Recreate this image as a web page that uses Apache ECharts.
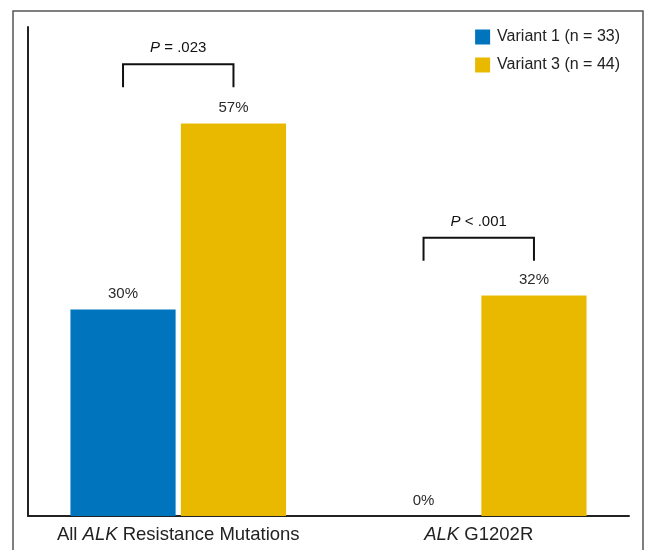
<!DOCTYPE html>
<html>
<head>
<meta charset="utf-8">
<script src="https://cdn.jsdelivr.net/npm/echarts@6/dist/echarts.min.js"></script>
<style>
  html, body { margin: 0; padding: 0; background: #fff; }
  #chart { width: 646px; height: 550px; }
</style>
</head>
<body>
<div id="chart"></div>
<script>
// Share of patients with ALK resistance mutations, by EML4-ALK variant
const categories = ['All ALK Resistance Mutations', 'ALK G1202R'];
const seriesNames = ['Variant 1 (n = 33)', 'Variant 3 (n = 44)'];
const variant1 = [30, 0];
const variant3 = [57, 32];
const pComparators = ['=', '<'];
const pValues = ['.023', '.001'];
const bracketLevels = [65.6, 40.4];

const FONT = '"Liberation Sans", Arial, Helvetica, sans-serif';
const BLUE = '#0075BE';
const YELLOW = '#E9B900';
const BAR_WIDTH_RATIO = 0.35;
const BAR_GAP_RATIO = 0.05;

const chart = echarts.init(document.getElementById('chart'), null, { renderer: 'canvas' });

const valueLabel = {
  show: true,
  position: 'top',
  distance: 8,
  fontFamily: FONT,
  fontSize: 15,
  color: '#2a2a2a',
  formatter: p => p.value + '%'
};

// Italicise the gene symbol inside category names
function categoryLabel(name) {
  return name.split(/(ALK)/).filter(s => s.length).map(s =>
    s === 'ALK' ? '{i|ALK}' : '{n|' + s + '}').join('');
}

function renderBracket(params, api) {
  const idx = api.value(0);
  const top = api.coord([idx, api.value(1)]);
  const band = api.size([1, 0])[0];
  const bw = band * BAR_WIDTH_RATIO;
  const off = (bw + bw * BAR_GAP_RATIO) / 2;
  const leg = 23;
  return {
    type: 'group',
    children: [
      {
        type: 'polyline',
        shape: {
          points: [
            [top[0] - off, top[1] + leg],
            [top[0] - off, top[1]],
            [top[0] + off, top[1]],
            [top[0] + off, top[1] + leg]
          ]
        },
        style: { stroke: '#111', lineWidth: 2, fill: null }
      },
      {
        type: 'text',
        x: top[0],
        y: top[1] - 16,
        style: {
          text: '{i|P}{n| ' + pComparators[idx] + ' ' + pValues[idx] + '}',
          align: 'center',
          verticalAlign: 'middle',
          rich: {
            i: { fontFamily: FONT, fontSize: 15, fontStyle: 'italic', fill: '#111' },
            n: { fontFamily: FONT, fontSize: 15, fill: '#111' }
          }
        }
      }
    ]
  };
}

chart.setOption({
  animation: false,
  backgroundColor: '#fff',
  graphic: [{
    type: 'rect',
    shape: { x: 13, y: 11, width: 630, height: 560 },
    style: { fill: null, stroke: '#555', lineWidth: 1.5 },
    silent: true
  }],
  legend: {
    data: seriesNames,
    orient: 'vertical',
    right: 21,
    top: 24,
    itemWidth: 15,
    itemHeight: 15,
    itemGap: 12,
    icon: 'rect',
    textStyle: { fontFamily: FONT, fontSize: 16, color: '#222', padding: [0, 0, 0, 2] }
  },
  grid: { left: 28, right: 17, top: 27, bottom: 34, containLabel: false },
  xAxis: {
    type: 'category',
    data: categories,
    axisLine: { lineStyle: { color: '#222', width: 2 } },
    axisTick: { show: false },
    axisLabel: {
      margin: 9,
      formatter: categoryLabel,
      rich: {
        i: { fontFamily: FONT, fontSize: 18.5, fontStyle: 'italic', color: '#222' },
        n: { fontFamily: FONT, fontSize: 18.5, color: '#222' }
      }
    }
  },
  yAxis: {
    type: 'value',
    min: 0,
    max: 71,
    axisLine: { show: true, lineStyle: { color: '#222', width: 2 } },
    axisTick: { show: false },
    axisLabel: { show: false },
    splitLine: { show: false }
  },
  series: [
    {
      name: seriesNames[0],
      type: 'bar',
      data: variant1,
      barWidth: (BAR_WIDTH_RATIO * 100) + '%',
      barGap: (BAR_GAP_RATIO * 100) + '%',
      itemStyle: { color: BLUE },
      label: valueLabel
    },
    {
      name: seriesNames[1],
      type: 'bar',
      data: variant3,
      barWidth: (BAR_WIDTH_RATIO * 100) + '%',
      barGap: (BAR_GAP_RATIO * 100) + '%',
      itemStyle: { color: YELLOW },
      label: valueLabel
    },
    {
      type: 'custom',
      name: 'comparison',
      renderItem: renderBracket,
      data: bracketLevels.map((v, i) => [i, v]),
      z: 5,
      silent: true
    }
  ]
});
</script>
</body>
</html>
